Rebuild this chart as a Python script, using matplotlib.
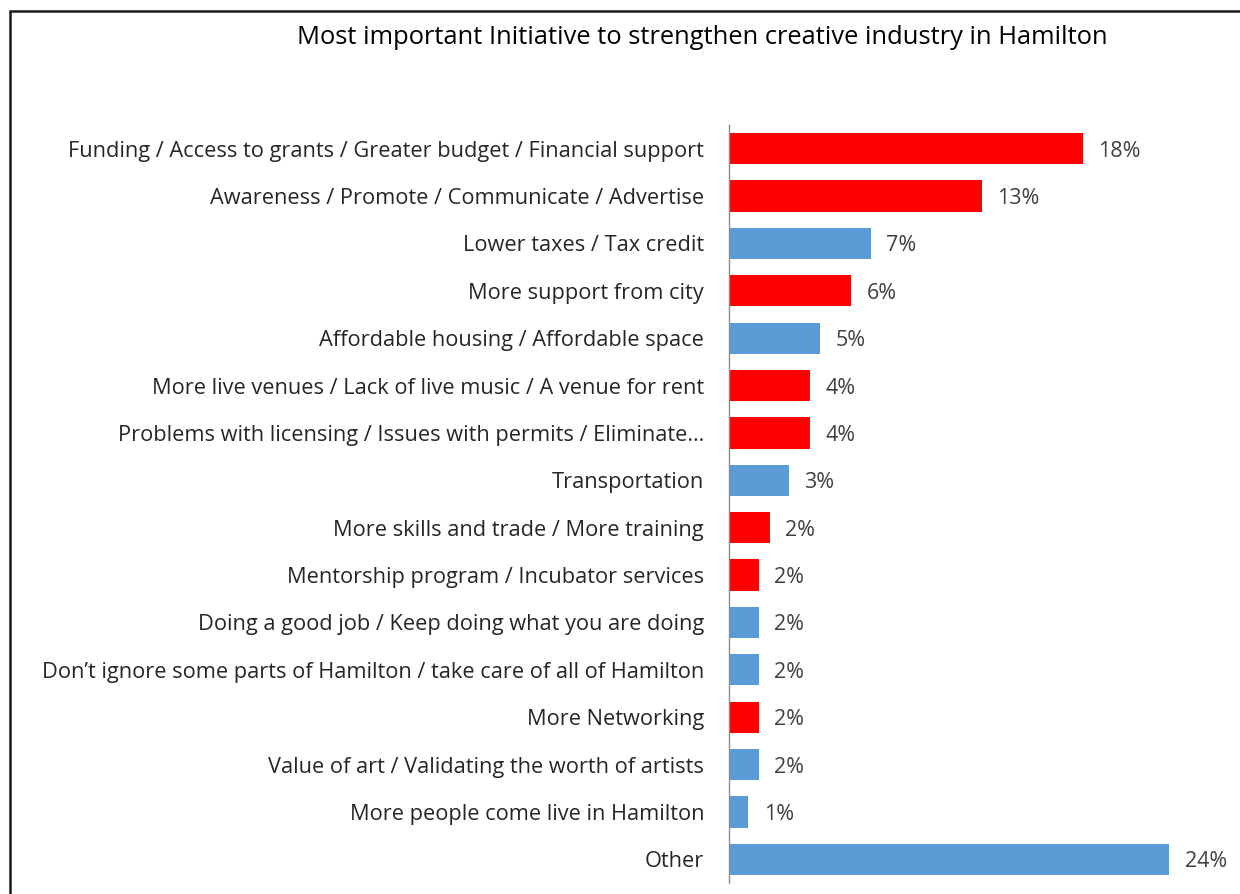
import matplotlib.pyplot as plt
from matplotlib.patches import Rectangle

plt.rcParams['font.family'] = ['Open Sans', 'DejaVu Sans']

categories = [
    'Funding / Access to grants / Greater budget / Financial support',
    'Awareness / Promote / Communicate / Advertise',
    'Lower taxes / Tax credit',
    'More support from city',
    'Affordable housing / Affordable space',
    'More live venues / Lack of live music / A venue for rent',
    'Problems with licensing / Issues with permits / Eliminate\u2026',
    'Transportation',
    'More skills and trade / More training',
    'Mentorship program / Incubator services',
    'Doing a good job / Keep doing what you are doing',
    'Don\u2019t ignore some parts of Hamilton / take care of all of Hamilton',
    'More Networking',
    'Value of art / Validating the worth of artists',
    'More people come live in Hamilton',
    'Other',
]
values = [18.25, 13.05, 7.3, 6.3, 4.7, 4.2, 4.2, 3.1, 2.1, 1.55, 1.55, 1.55, 1.55, 1.55, 1.0, 22.7]
value_labels = ['18%', '13%', '7%', '6%', '5%', '4%', '4%', '3%', '2%', '2%', '2%', '2%', '2%', '2%', '1%', '24%']
highlight = [1, 1, 0, 1, 0, 1, 1, 0, 1, 1, 0, 0, 1, 0, 0, 0]

red = '#FF0000'
blue = '#5B9BD5'
colors = [red if h else blue for h in highlight]

fig = plt.figure(figsize=(12.4, 8.94), dpi=100)
ax = fig.add_axes([729 / 1240, 11 / 894, 511 / 1240, 758 / 894])

pos = list(range(len(categories)))
ax.barh(pos, values, height=0.66, color=colors)
ax.set_ylim(len(categories) - 0.5, -0.5)
ax.set_xlim(0, 511 / 19.4)

ax.set_yticks(pos)
ax.set_yticklabels(categories, fontsize=15.7, color='#262626')
ax.tick_params(axis='y', length=0, pad=18)
ax.set_xticks([])

for s in ['top', 'right', 'bottom']:
    ax.spines[s].set_visible(False)
ax.spines['left'].set_color('#8C8C8C')
ax.spines['left'].set_linewidth(1)

for p, v, lab in zip(pos, values, value_labels):
    ax.annotate(lab, (v, p), xytext=(11, 0), textcoords='offset points',
                va='center_baseline', ha='left', fontsize=15.5, color='#404040',
                annotation_clip=False)

fig.text(702 / 1240, 1 - 37 / 894, 'Most important Initiative to strengthen creative industry in Hamilton',
         ha='center', va='center', fontsize=18.4, color='black')

# outer frame (cut off at right and bottom)
frame = Rectangle((10 / 1240, -0.1), 1.2, 1.1 - 11 / 894, transform=fig.transFigure,
                  fill=False, edgecolor='#1a1a1a', linewidth=1.8, clip_on=False)
fig.patches.append(frame)

fig.savefig('out.png', dpi=100)
